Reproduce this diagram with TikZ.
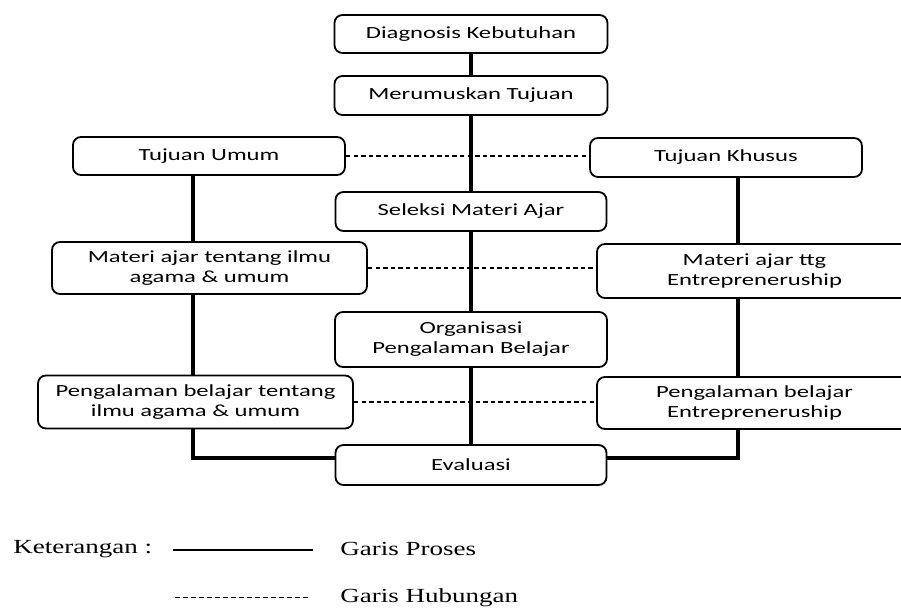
\documentclass[tikz,border=0pt]{standalone}
\usepackage{fontspec}
\setmainfont[FakeStretch=1.45]{Carlito}
\newfontfamily\legendfont[FakeStretch=1.35]{Liberation Serif}
\usetikzlibrary{backgrounds}

\begin{document}
\begin{tikzpicture}[x=0.5pt,y=-0.5pt,
  box/.style={draw, rounded corners=4pt, fill=white, line width=0.9pt,
    align=center, inner sep=0pt, font=\fontsize{8.5}{10}\selectfont},
  proses/.style={line width=1.7pt},
  hubungan/.style={line width=0.6pt, dash pattern=on 2.2pt off 1.6pt},
  legend/.style={anchor=west, inner sep=0pt, font=\legendfont\fontsize{10}{12}\selectfont}]
\useasboundingbox (0,0) rectangle (901,608);
\begin{scope}
\clip (0,0) rectangle (901,608);
\node [box, minimum width=136.5pt, minimum height=19pt] (diag) at (471,34) {Diagnosis Kebutuhan};
\node [box, minimum width=136.5pt, minimum height=19.5pt] (merum) at (471,95.5) {Merumuskan Tujuan};
\node [box, minimum width=136pt, minimum height=19pt] (tumum) at (209,156) {Tujuan Umum};
\node [box, minimum width=136pt, minimum height=19.5pt] (tkhusus) at (726,157.5) {Tujuan Khusus};
\node [box, minimum width=135.5pt, minimum height=19.5pt] (seleksi) at (471,211.5) {Seleksi Materi Ajar};
\node [box, minimum width=157.5pt, minimum height=26pt] (mumum) at (209.5,268) {Materi ajar tentang ilmu\\agama \& umum};
\node [box, minimum width=157.5pt, minimum height=27pt] (mkhusus) at (754.5,271) {Materi ajar ttg\\Entrepreneruship};
\node [box, minimum width=136pt, minimum height=27.5pt] (organisasi) at (471,339.5) {Organisasi\\Pengalaman Belajar};
\node [box, minimum width=157.5pt, minimum height=26.5pt] (pumum) at (195.5,402) {Pengalaman belajar tentang\\ilmu agama \& umum};
\node [box, minimum width=157.5pt, minimum height=26pt] (pkhusus) at (754.5,403) {Pengalaman belajar\\Entrepreneruship};
\node [box, minimum width=135.5pt, minimum height=20pt] (evaluasi) at (471,465) {Evaluasi};
\coordinate (lbend) at (193,458);
\coordinate (rbend) at (738,458);
\begin{scope}[on background layer]
\draw [proses] (diag) -- (merum) -- (seleksi) -- (organisasi) -- (evaluasi);
\draw [proses] (tumum.south -| lbend) -- (lbend) -- (lbend -| evaluasi.west);
\draw [proses] (tkhusus.south -| rbend) -- (rbend) -- (rbend -| evaluasi.east);
\end{scope}
\draw [hubungan] (tumum.east) -- (tumum.east -| tkhusus.west);
\draw [hubungan] (mumum.east) -- (mumum.east -| mkhusus.west);
\draw [hubungan] (pumum.east) -- (pumum.east -| pkhusus.west);
\end{scope}
\node [legend] (ket) at (13,549) {Keterangan :};
\coordinate (ps) at (173,550);
\coordinate (pe) at (313,550);
\draw [line width=1.1pt] (ps) -- (pe);
\node [legend] (gproses) at (340,549) {Garis Proses};
\coordinate (hs) at (175,598);
\coordinate (he) at (310,598);
\draw [line width=0.5pt, dash pattern=on 2.5pt off 1.5pt] (hs) -- (he);
\node [legend] (ghubungan) at (340,598) {Garis Hubungan};
\end{tikzpicture}
\end{document}
